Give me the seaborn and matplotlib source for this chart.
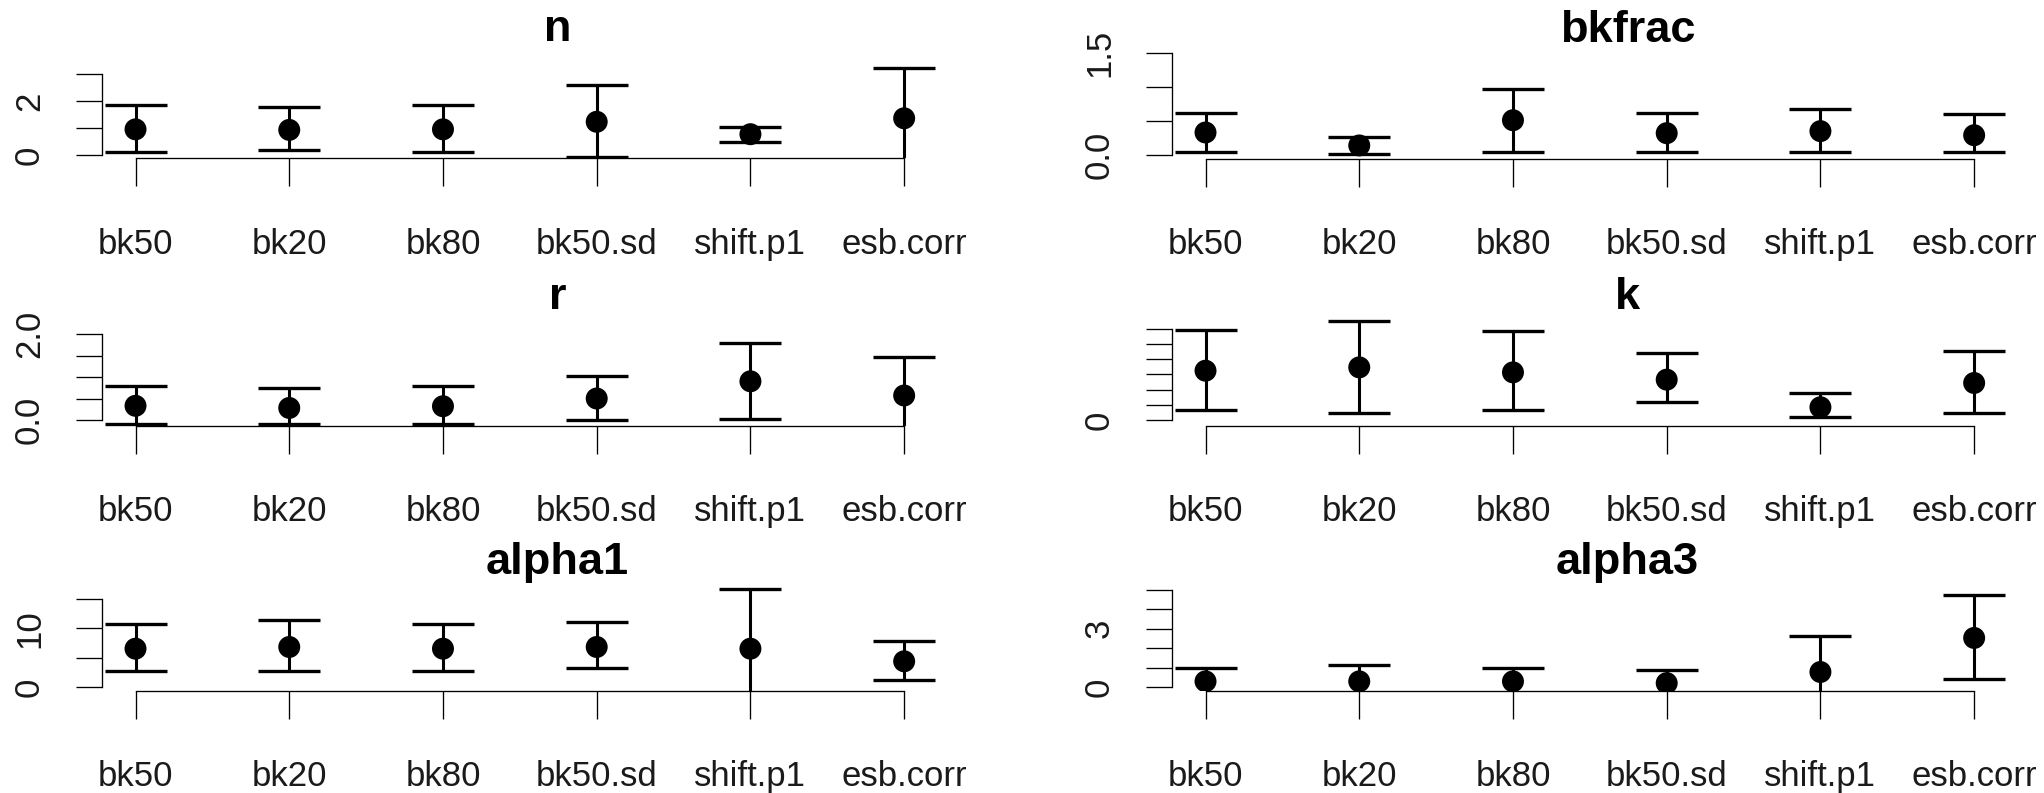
import numpy as np
import pandas as pd
import matplotlib
matplotlib.use("Agg")
import matplotlib.pyplot as plt
import seaborn as sns

# ---------------- data ----------------
categories = ["bk50", "bk20", "bk80", "bk50.sd", "shift.p1", "esb.corr"]

n_mean = [0.95, 0.93, 0.95, 1.23, 0.77, 1.36]
n_lo = [0.10, 0.19, 0.10, -0.06, 0.49, -0.49]
n_hi = [1.85, 1.79, 1.85, 2.59, 1.05, 3.21]
n_ticks = [0, 1, 2, 3]
n_ticklabels = ["0", "", "2", ""]

bkfrac_mean = [0.33, 0.14, 0.51, 0.32, 0.35, 0.29]
bkfrac_lo = [0.04, 0.015, 0.04, 0.04, 0.04, 0.04]
bkfrac_hi = [0.62, 0.26, 0.97, 0.62, 0.68, 0.60]
bkfrac_ticks = [0.0, 0.5, 1.0, 1.5]
bkfrac_ticklabels = ["0.0", "", "", "1.5"]

r_mean = [0.33, 0.28, 0.32, 0.50, 0.90, 0.57]
r_lo = [-0.09, -0.09, -0.09, 0.00, 0.03, -0.32]
r_hi = [0.78, 0.74, 0.78, 1.03, 1.79, 1.46]
r_ticks = [0.0, 0.5, 1.0, 1.5, 2.0]
r_ticklabels = ["0.0", "", "", "", "2.0"]

k_mean = [3.25, 3.47, 3.14, 2.66, 0.84, 2.44]
k_lo = [0.68, 0.44, 0.68, 1.16, 0.18, 0.44]
k_hi = [5.96, 6.55, 5.85, 4.40, 1.76, 4.53]
k_ticks = [0, 1, 2, 3, 4, 5, 6]
k_ticklabels = ["0", "", "", "", "", "", ""]

alpha1_mean = [6.53, 6.82, 6.53, 6.82, 6.53, 4.38]
alpha1_lo = [2.67, 2.67, 2.67, 3.24, -3.6, 1.14]
alpha1_hi = [10.74, 11.48, 10.74, 11.08, 16.7, 7.9]
alpha1_ticks = [0, 5, 10, 15]
alpha1_ticklabels = ["0", "", "10", ""]

alpha3_mean = [0.29, 0.29, 0.29, 0.20, 0.77, 2.52]
alpha3_lo = [-0.40, -0.53, -0.40, -0.49, -1.06, 0.43]
alpha3_hi = [0.98, 1.11, 0.98, 0.89, 2.60, 4.74]
alpha3_ticks = [0, 1, 2, 3, 4, 5]
alpha3_ticklabels = ["0", "", "", "3", "", ""]

panels = [
    ("n", n_mean, n_lo, n_hi, n_ticks, n_ticklabels),
    ("bkfrac", bkfrac_mean, bkfrac_lo, bkfrac_hi, bkfrac_ticks, bkfrac_ticklabels),
    ("r", r_mean, r_lo, r_hi, r_ticks, r_ticklabels),
    ("k", k_mean, k_lo, k_hi, k_ticks, k_ticklabels),
    ("alpha1", alpha1_mean, alpha1_lo, alpha1_hi, alpha1_ticks, alpha1_ticklabels),
    ("alpha3", alpha3_mean, alpha3_lo, alpha3_hi, alpha3_ticks, alpha3_ticklabels),
]

# ---------------- layout (pixels) ----------------
W, H = 2044, 793
REGION_W = 911.6
REGION_H = 125
# left edge, x-axis line y, pixel of value 0, pixels per unit
layout = [
    (101.7, 158.3, 155.0, 27.0),
    (1171.7, 158.5, 155.0, 68.2),
    (101.7, 425.7, 420.0, 43.0),
    (1171.7, 426.0, 420.0, 15.17),
    (101.7, 690.7, 687.0, 5.867),
    (1171.7, 690.7, 687.0, 19.47),
]

sns.set_style("white")
plt.rcParams["font.family"] = ["Liberation Sans", "DejaVu Sans"]

fig = plt.figure(figsize=(W / 100, H / 100), dpi=100)

for (title, mean, lo, hi, ticks, ticklabels), (L, B, p0, s) in zip(panels, layout):
    ax = fig.add_axes([L / W, (H - B) / H, REGION_W / W, REGION_H / H])
    ax.set_facecolor("none")
    mean = np.asarray(mean)
    lo = np.asarray(lo)
    hi = np.asarray(hi)
    pos = np.arange(len(categories))
    ax.errorbar(pos, mean, yerr=[mean - lo, hi - mean], fmt="none",
                ecolor="black", elinewidth=2.2, capsize=22, capthick=2.4, zorder=2)
    df = pd.DataFrame({"pos": pos, "mean": mean})
    sns.scatterplot(data=df, x="pos", y="mean", ax=ax, color="black", s=250,
                    edgecolor="none", linewidth=0, zorder=3, legend=False)
    ax.set_xlim(-0.22, 5.71)
    ax.set_ylim((p0 - B) / s, (p0 - (B - REGION_H)) / s)
    ax.set_xlabel("")
    ax.set_ylabel("")
    ax.set_xticks(pos)
    ax.set_xticklabels(categories)
    ax.set_yticks(ticks)
    ax.set_yticklabels(ticklabels)
    for sp in ["top", "right"]:
        ax.spines[sp].set_visible(False)
    for sp in ["left", "bottom"]:
        ax.spines[sp].set_linewidth(0.95)
        ax.spines[sp].set_color("black")
    ax.spines["bottom"].set_bounds(0, len(categories) - 1)
    ax.spines["left"].set_bounds(ticks[0], ticks[-1])
    ax.tick_params(axis="x", direction="out", length=20.4, width=0.95,
                   pad=29.5, labelsize=25, colors="black", labelcolor="#1a1a1a",
                   bottom=True)
    ax.tick_params(axis="y", direction="out", length=18.7, width=0.95,
                   pad=21.4, labelsize=25, colors="black", labelcolor="#1a1a1a",
                   left=True)
    for lab in ax.get_yticklabels():
        lab.set_rotation(90)
        lab.set_va("center")
    ax.grid(False)
    fig.text((L + REGION_W / 2) / W, (H - (B - 117)) / H, title,
             ha="center", va="baseline", fontsize=32.5, fontweight="bold",
             color="black")

fig.savefig("out.png", dpi=100)
